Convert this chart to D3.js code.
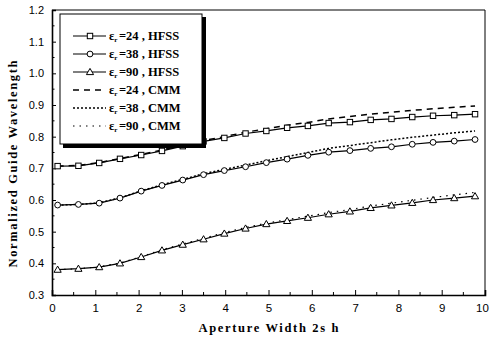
<!DOCTYPE html>
<html><head><meta charset="utf-8">
<script src="https://cdn.jsdelivr.net/npm/d3@7"></script>
<style>body{margin:0;background:#fff}</style>
</head><body>
<script>
const xVals = [0.13,0.61,1.09,1.57,2.06,2.54,3.02,3.5,3.98,4.47,4.95,5.43,5.91,6.39,6.88,7.36,7.84,8.32,8.8,9.29,9.77];
const hfss24 = [0.707,0.708,0.717,0.73,0.742,0.755,0.77,0.785,0.796,0.81,0.818,0.828,0.834,0.843,0.846,0.853,0.856,0.862,0.866,0.868,0.871];
const cmm24  = [0.707,0.709,0.718,0.731,0.744,0.758,0.773,0.788,0.80,0.814,0.825,0.836,0.845,0.856,0.864,0.871,0.877,0.883,0.888,0.893,0.897];
const hfss38 = [0.584,0.586,0.59,0.606,0.628,0.646,0.663,0.68,0.693,0.705,0.718,0.729,0.741,0.751,0.756,0.763,0.768,0.776,0.782,0.786,0.791];
const cmm38  = [0.584,0.586,0.591,0.607,0.629,0.648,0.665,0.683,0.697,0.71,0.724,0.737,0.75,0.763,0.772,0.781,0.79,0.798,0.805,0.812,0.818];
const hfss90 = [0.38,0.383,0.388,0.40,0.42,0.441,0.459,0.476,0.494,0.51,0.524,0.534,0.544,0.555,0.564,0.575,0.583,0.591,0.6,0.606,0.612];
const cmm90  = [0.38,0.383,0.389,0.401,0.421,0.443,0.461,0.479,0.497,0.513,0.527,0.538,0.549,0.56,0.57,0.581,0.59,0.599,0.608,0.616,0.624];
const xTicks = [0,1,2,3,4,5,6,7,8,9,10];
const yTicks = [0.3,0.4,0.5,0.6,0.7,0.8,0.9,1.0,1.1,1.2];
const legendLabels = ["=24 , HFSS","=38 , HFSS","=90 , HFSS","=24 , CMM","=38 , CMM","=90 , CMM"];
const xTitle = "Aperture Width 2s h";
const yTitle = "Normalized Guide Wavelength";

const W=490,H=341;
const L=52,R=485,T=10,B=295;
const svg=d3.select("body").append("svg").attr("width",W).attr("height",H);
const x=d3.scaleLinear().domain([0,10]).range([L,R]);
const y=d3.scaleLinear().domain([0.3,1.2]).range([B,T]);

// frame
svg.append("line").attr("x1",L).attr("x2",R).attr("y1",T).attr("y2",T).attr("stroke","#000").attr("stroke-width",1);
svg.append("line").attr("x1",R).attr("x2",R).attr("y1",T).attr("y2",B).attr("stroke","#000").attr("stroke-width",1);

// axes
const xMinor=d3.range(0,10.01,0.5);
const yMinor=d3.range(0.3,1.2001,0.05);
const gx=svg.append("g").attr("transform",`translate(0,${B})`)
  .call(d3.axisBottom(x).tickValues(xTicks).tickSize(-5).tickPadding(9).tickFormat(d3.format("d")));
gx.select(".domain").attr("stroke-width",1.6);
gx.selectAll(".tick text").attr("font-family","Liberation Sans, Arial, sans-serif").attr("font-size",11.5)
  .attr("dx",d=>d===10?-3:0);
svg.append("g").selectAll("line").data(xMinor.filter(v=>Math.abs(v-Math.round(v))>0.01)).join("line")
  .attr("x1",d=>x(d)).attr("x2",d=>x(d)).attr("y1",B).attr("y2",B-3).attr("stroke","#000");

const gy=svg.append("g").attr("transform",`translate(${L},0)`)
  .call(d3.axisLeft(y).tickValues(yTicks).tickSize(-4).tickPadding(8).tickFormat(d3.format(".1f")));
gy.select(".domain").attr("stroke-width",1.6);
gy.selectAll(".tick text").attr("font-family","Liberation Sans, Arial, sans-serif").attr("font-size",11);
svg.append("g").selectAll("line").data(yMinor.filter((v,i)=>i%2===1)).join("line")
  .attr("x1",L).attr("x2",L+2.5).attr("y1",d=>y(d)).attr("y2",d=>y(d)).attr("stroke","#000");

// titles
svg.append("text").attr("x",(L+R)/2).attr("y",332).attr("text-anchor","middle")
  .attr("font-family","Liberation Serif, Times New Roman, serif").attr("font-weight","bold").attr("font-size",12.5)
  .attr("textLength",140).text(xTitle);
svg.append("text").attr("transform","translate(17,164) rotate(-90)").attr("text-anchor","middle")
  .attr("font-family","Liberation Serif, Times New Roman, serif").attr("font-weight","bold").attr("font-size",12.5)
  .attr("textLength",207).text(yTitle);

const line=d3.line().x((d,i)=>x(xVals[i])).y(d=>y(d));
const series=[
  {v:hfss24,dash:null,w:1.2,m:"square"},
  {v:hfss38,dash:null,w:1.2,m:"circle"},
  {v:hfss90,dash:null,w:1.2,m:"triangle"},
  {v:cmm24,dash:"6,5",w:1.5,m:null},
  {v:cmm38,dash:"2,2",w:1.5,m:null},
  {v:cmm90,dash:"1.5,5",w:1.2,m:null}
];
const g=svg.append("g");
series.slice(3).concat(series.slice(0,3)).forEach(s=>{
  g.append("path").attr("d",line(s.v)).attr("fill","none").attr("stroke","#000")
   .attr("stroke-width",s.w).attr("stroke-dasharray",s.dash);
});
function marker(sel,type,cx,cy){
  if(type==="square") sel.append("rect").attr("x",cx-2.7).attr("y",cy-2.7).attr("width",5.4).attr("height",5.4)
     .attr("fill","#fff").attr("stroke","#000").attr("stroke-width",1);
  else if(type==="circle") sel.append("circle").attr("cx",cx).attr("cy",cy).attr("r",2.9)
     .attr("fill","#fff").attr("stroke","#000").attr("stroke-width",1);
  else if(type==="triangle") sel.append("path")
     .attr("d",`M${cx},${cy-3.6}L${cx+3.6},${cy+2.6}L${cx-3.6},${cy+2.6}Z`)
     .attr("fill","#fff").attr("stroke","#000").attr("stroke-width",1);
}
series.slice(0,3).forEach(s=>{
  s.v.forEach((d,i)=>marker(g,s.m,x(xVals[i]),y(d)));
});

// legend
const lg=svg.append("g");
lg.append("rect").attr("x",63).attr("y",17).attr("width",143).attr("height",131).attr("fill","#000");
lg.append("rect").attr("x",60).attr("y",14).attr("width",142).attr("height",130).attr("fill","#fff").attr("stroke","#000").attr("stroke-width",1);
series.forEach((s,i)=>{
  const ry=36+i*18;
  lg.append("line").attr("x1",73).attr("x2",106).attr("y1",ry).attr("y2",ry).attr("stroke","#000")
    .attr("stroke-width",s.w).attr("stroke-dasharray",s.dash);
  if(s.m) marker(lg,s.m,90,ry);
  const t=lg.append("text").attr("x",109).attr("y",ry+4).attr("font-family","Liberation Serif, Times New Roman, serif")
    .attr("font-size",12.5).attr("font-weight","bold");
  t.append("tspan").text("ε");
  t.append("tspan").attr("font-size",7).attr("dy",2).text("r");
  t.append("tspan").attr("dy",-2).attr("dx",1.5).text(legendLabels[i]);
});
</script>
</body></html>
